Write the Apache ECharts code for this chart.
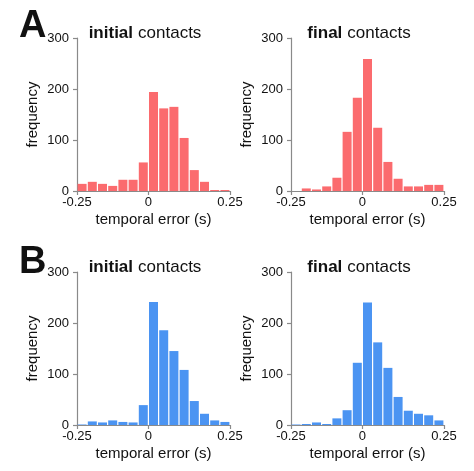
<!DOCTYPE html>
<html>
<head>
<meta charset="utf-8">
<script src="https://cdn.jsdelivr.net/npm/echarts@6/dist/echarts.min.js"></script>
<style>
  html, body { margin: 0; padding: 0; background: #fff; }
  #main { width: 474px; height: 471px; }
</style>
</head>
<body>
<div id="main"></div>
<script>
var myChart = echarts.init(document.getElementById('main'));

// 15 histogram bins, index 0..14 (bin 7 starts at 0 s)
var binCount = 15;
var tickPositions = [0, 7, 15];
var tickLabels = ['-0.25', '0', '0.25'];

var initialA = [14, 18, 14, 10, 22, 22, 56, 194, 162, 165, 104, 41, 18, 2, 2];
var finalA   = [0, 5, 3, 9, 26, 116, 183, 259, 124, 57, 24, 9, 9, 12, 12];
var initialB = [1, 7, 5, 9, 6, 5, 39, 241, 186, 145, 108, 47, 22, 9, 6];
var finalB   = [1, 2, 5, 2, 13, 29, 122, 240, 162, 112, 55, 28, 22, 19, 9];

var red = '#fb6b6e';
var blue = '#4b94f2';
var axisColor = '#8a8a8a';
var font = 'Liberation Sans, Arial, Helvetica, sans-serif';

var toBins = function (vals) {
    var res = [];
    for (var i = 0; i < vals.length; i++) {
        res.push([i + 0.5, vals[i]]);
    }
    return res;
};

var panels = [
    {left: 77,  top: 38,  data: initialA, color: red,  kind: 'initial'},
    {left: 291, top: 38,  data: finalA,   color: red,  kind: 'final'},
    {left: 77,  top: 272, data: initialB, color: blue, kind: 'initial'},
    {left: 291, top: 272, data: finalB,   color: blue, kind: 'final'}
];

var grids = [], xAxes = [], yAxes = [], series = [], titles = [];

panels.forEach(function (p, i) {
    grids.push({left: p.left, top: p.top, width: 153, height: 153, outerBoundsMode: 'none'});
    xAxes.push({
        type: 'value', gridIndex: i, min: 0, max: binCount,
        name: 'temporal error (s)', nameLocation: 'middle', nameGap: 21,
        nameTextStyle: {fontSize: 15, color: '#111', fontFamily: font},
        axisLine: {show: true, lineStyle: {color: axisColor, width: 1.2}},
        axisTick: {show: true, length: 4, customValues: tickPositions, lineStyle: {color: axisColor, width: 1.2}},
        axisLabel: {
            customValues: tickPositions, margin: 5, fontSize: 13, color: '#111', fontFamily: font,
            formatter: function (v) {
                var k = tickPositions.indexOf(v);
                return k >= 0 ? tickLabels[k] : '';
            }
        },
        splitLine: {show: false}
    });
    yAxes.push({
        type: 'value', gridIndex: i, min: 0, max: 300, interval: 100,
        name: 'frequency', nameLocation: 'middle', nameGap: 37,
        nameTextStyle: {fontSize: 15, color: '#111', fontFamily: font},
        axisLine: {show: true, lineStyle: {color: axisColor, width: 1.2}},
        axisTick: {show: true, length: 4, lineStyle: {color: axisColor, width: 1.2}},
        axisLabel: {margin: 8, fontSize: 13, color: '#111', fontFamily: font},
        splitLine: {show: false}
    });
    series.push({
        type: 'bar', xAxisIndex: i, yAxisIndex: i,
        data: toBins(p.data), barWidth: 9,
        itemStyle: {color: p.color},
        silent: true
    });
    titles.push({
        text: '{b|' + p.kind + '} {n|contacts}',
        left: p.left + 63, top: p.top - 19, textAlign: 'center',
        textStyle: {
            fontWeight: 'normal',
            rich: {
                b: {fontSize: 17, fontWeight: 'bold', color: '#111', fontFamily: font},
                n: {fontSize: 17, fontWeight: 'normal', color: '#111', fontFamily: font}
            }
        }
    });
});

titles.push({text: 'A', left: 14, top: 3, textStyle: {fontSize: 38, fontWeight: 'bold', color: '#111', fontFamily: font}});
titles.push({text: 'B', left: 14, top: 239, textStyle: {fontSize: 38, fontWeight: 'bold', color: '#111', fontFamily: font}});

option = {
    backgroundColor: '#fff',
    animation: false,
    title: titles,
    grid: grids,
    xAxis: xAxes,
    yAxis: yAxes,
    series: series
};

myChart.setOption(option);
</script>
</body>
</html>
